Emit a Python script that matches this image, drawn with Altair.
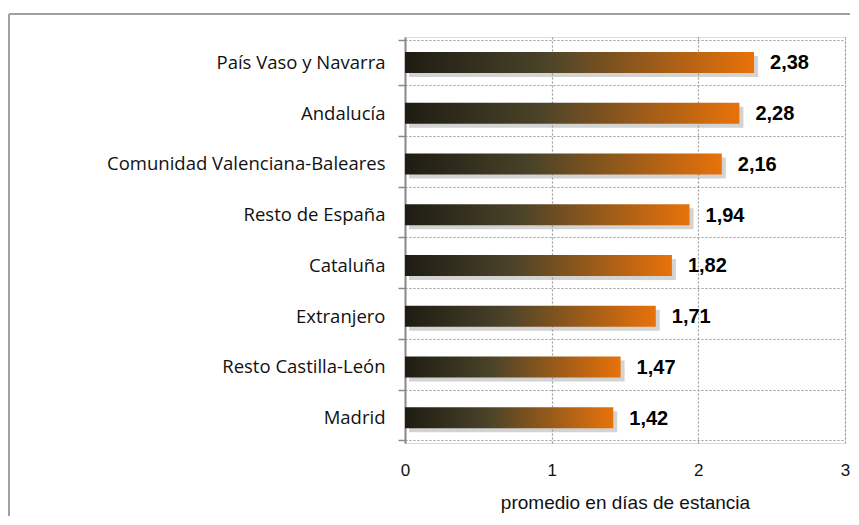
import altair as alt
import pandas as pd

categories = ["País Vaso y Navarra", "Andalucía", "Comunidad Valenciana-Baleares",
              "Resto de España", "Cataluña", "Extranjero", "Resto Castilla-León", "Madrid"]
values = [2.38, 2.28, 2.16, 1.94, 1.82, 1.71, 1.47, 1.42]
x_ticks = [0, 1, 2, 3]
x_title = "promedio en días de estancia"

df = pd.DataFrame({
    "cat": categories,
    "val": values,
    "lbl": [f"{v:.2f}".replace(".", ",") for v in values],
})

W, H = 440, 406
SANS = "Liberation Sans, Arial, sans-serif"

y_enc = alt.Y("cat:N", sort=categories, title=None,
              axis=alt.Axis(tickBand="extent", grid=True, gridDash=[2, 2],
                            gridColor="#9a9a9a", gridWidth=1.2,
                            domainColor="#8a8a8a", domainWidth=2,
                            tickColor="#8a8a8a", tickWidth=1.5, tickSize=7,
                            labelFont="Open Sans", labelFontSize=18.5, labelColor="#111111",
                            labelPadding=13, labelLimit=0))
x_scale = alt.Scale(domain=[0, 3], nice=False)
x_enc = alt.X("val:Q", scale=x_scale, title=x_title,
              axis=alt.Axis(values=x_ticks, format="d", grid=True, gridDash=[2, 2],
                            gridColor="#9a9a9a", gridWidth=1.2,
                            domain=False, ticks=False, labelFlush=False,
                            labelFont=SANS, labelFontSize=17, labelColor="#111111",
                            labelPadding=19, titleFont=SANS, titleFontSize=19,
                            titleFontWeight="normal", titleColor="#111111",
                            titlePadding=15))

base = alt.Chart(df)

# soft drop shadow: same bars drawn through scales whose ranges are nudged
shadow = base.mark_bar(size=21, color="#9e9e9e", opacity=0.45).encode(
    x=alt.X("val:Q", scale=alt.Scale(domain=[0, 3], nice=False, range=[4, W + 4]), axis=None),
    y=alt.Y("cat:N", sort=categories, scale=alt.Scale(range=[4, H + 4]), axis=None))

grad = alt.Gradient(
    gradient="linear",
    stops=[alt.GradientStop(color="#1e1c13", offset=0),
           alt.GradientStop(color="#4a4329", offset=0.4),
           alt.GradientStop(color="#e8720a", offset=1)],
    x1=0, x2=1, y1=0, y2=0)

bars = base.mark_bar(size=21, color=grad).encode(x=x_enc, y=y_enc)

labels = base.mark_text(align="left", baseline="middle", dx=16, dy=1,
                        font=SANS, fontSize=20, fontWeight="bold",
                        color="#000000").encode(
    x=alt.X("val:Q", scale=x_scale), y=alt.Y("cat:N", sort=categories), text="lbl:N")

frame_df = pd.DataFrame({"a": [0]})
frame_top = alt.Chart(frame_df).mark_rule(color="#a0a0a0", strokeWidth=2).encode(
    x=alt.value(-396), x2=alt.value(445), y=alt.value(-23))
frame_left = alt.Chart(frame_df).mark_rule(color="#a0a0a0", strokeWidth=2).encode(
    x=alt.value(-396), y=alt.value(-23), y2=alt.value(479))

main = alt.layer(bars, labels)
chart = alt.layer(frame_top, frame_left, shadow, main).resolve_scale(
    x="independent", y="independent"
).properties(
    width=W, height=H,
    padding={"left": 0, "top": 5, "right": 0, "bottom": 0},
).configure_view(strokeWidth=0).configure(background="white")

chart.save("out.html", embed_options={"renderer": "svg", "actions": False})
